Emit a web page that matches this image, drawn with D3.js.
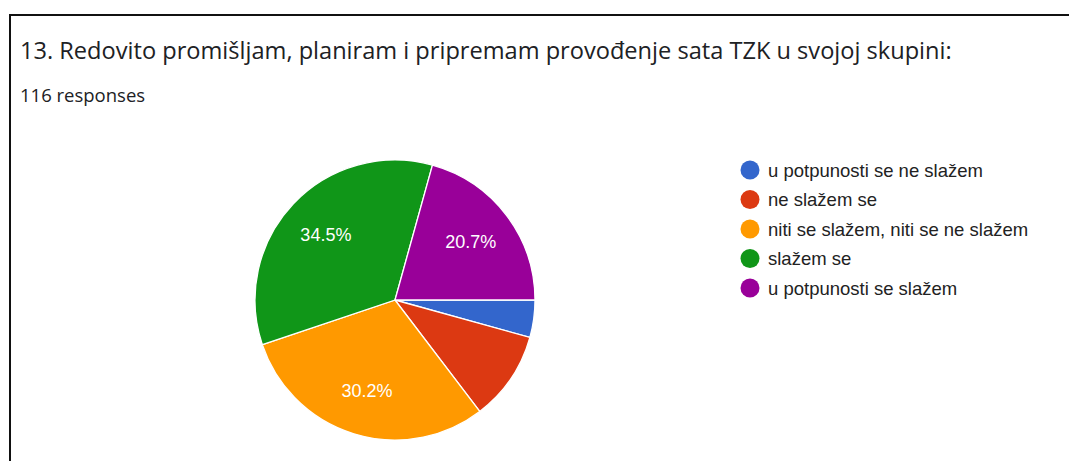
<!DOCTYPE html>
<html><head><meta charset="utf-8">
<script src="https://cdn.jsdelivr.net/npm/d3@7"></script>
<style>
html,body{margin:0;padding:0;background:#fff;}
svg{display:block;}
</style></head>
<body>
<svg id="chart" width="1069" height="461"></svg>
<script>
const titleText = "13. Redovito promišljam, planiram i pripremam provođenje sata TZK u svojoj skupini:";
const subtitleText = "116 responses";
const categories = ["u potpunosti se ne slažem","ne slažem se","niti se slažem, niti se ne slažem","slažem se","u potpunosti se slažem"];
const counts = [5, 12, 35, 40, 24];
const colors = ["#3366cc","#dc3912","#ff9900","#109618","#990099"];

const svg = d3.select("#chart");
const W = 1069, H = 461;
svg.append("rect").attr("width", W).attr("height", H).attr("fill", "#fff");

// frame
svg.append("path").attr("d", `M10,${H} L10,15 L${W},15`)
  .attr("fill","none").attr("stroke","#111").attr("stroke-width",2);

svg.append("text").attr("x",20).attr("y",59)
  .attr("font-family","'Open Sans', Roboto, sans-serif").attr("font-size",23.6)
  .attr("fill","#202124").text(titleText);
svg.append("text").attr("x",20).attr("y",102)
  .attr("font-family","'Open Sans', Roboto, sans-serif").attr("font-size",18.5)
  .attr("fill","#202124").text(subtitleText);

const total = d3.sum(counts);
const cx = 395, cy = 300, R = 140;
const pie = d3.pie().sort(null).value(d => d)
  .startAngle(Math.PI/2).endAngle(Math.PI/2 + 2*Math.PI);
const arcs = pie(counts);
const arc = d3.arc().innerRadius(0).outerRadius(R);
const labelArc = d3.arc().innerRadius(R*0.68).outerRadius(R*0.68);
const g = svg.append("g").attr("transform",`translate(${cx},${cy})`);
g.selectAll("path.slice").data(arcs).join("path").attr("class","slice")
  .attr("d", arc).attr("fill",(d,i)=>colors[i])
  .attr("stroke","#fff").attr("stroke-width",1.3);
g.selectAll("text.lbl").data(arcs.filter(d => d.data/total > 0.15)).join("text").attr("class","lbl")
  .attr("transform", d => `translate(${labelArc.centroid(d)})`)
  .attr("text-anchor","middle").attr("dominant-baseline","central")
  .attr("font-family","Arial, 'Liberation Sans', sans-serif").attr("font-size",18)
  .attr("fill","#fff")
  .text(d => (d.data/total*100).toFixed(1) + "%");

const legend = svg.append("g");
const ly = d3.scalePoint().domain(categories).range([170, 288]);
const items = legend.selectAll("g").data(categories).join("g")
  .attr("transform", d => `translate(750,${ly(d)})`);
items.append("circle").attr("r",9.5).attr("fill",(d,i)=>colors[i]);
items.append("text").attr("x",18).attr("dominant-baseline","central")
  .attr("font-family","Arial, 'Liberation Sans', sans-serif").attr("font-size",18.5)
  .attr("fill","#222").text(d => d);
</script>
</body></html>
